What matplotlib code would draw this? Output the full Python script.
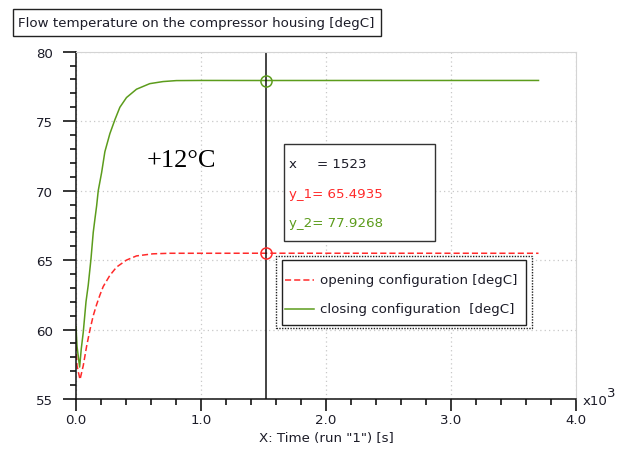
import numpy as np
import matplotlib
matplotlib.use("Agg")
import matplotlib.pyplot as plt
import matplotlib.transforms as mtransforms
from matplotlib.patches import Rectangle
from matplotlib.ticker import MultipleLocator, FuncFormatter

# ------------------------------------------------------------------
# Data (time in s, temperature in degC)
# ------------------------------------------------------------------
t_closing = [0, 8, 29, 42, 58, 80, 98, 120, 138, 152, 165, 178, 205, 231,
             271, 311, 351, 404, 484, 590, 696, 803, 1000, 1523, 3700]
T_closing = [60.2, 58.8, 57.3, 58.6, 59.8, 62.0, 63.2, 65.1, 67.0, 68.0,
             68.9, 70.0, 71.3, 72.8, 74.1, 75.1, 76.0, 76.7, 77.3, 77.7,
             77.85, 77.92, 77.93, 77.9268, 77.93]

t_opening = [0, 8, 32, 58, 85, 112, 138, 165, 192, 218, 271, 325, 404,
             484, 615, 750, 1000, 1523, 3700]
T_opening = [58.9, 57.4, 56.4, 57.4, 58.8, 60.0, 61.0, 61.8, 62.5, 63.1,
             63.9, 64.5, 65.0, 65.3, 65.45, 65.49, 65.49, 65.4935, 65.49]

cursor_x = 1523
cursor_y1 = 65.4935
cursor_y2 = 77.9268

title = "Flow temperature on the compressor housing [degC]"
legend_labels = ["opening configuration [degC]", "closing configuration  [degC]"]
annotation = "+12\u00b0C"

RED = "#ff2a2a"
GREEN = "#5c9c1c"
TXT = "#1c1c28"
FONT = "DejaVu Sans"
FS = 9.6

W, H = 622, 452
fig = plt.figure(figsize=(W / 100, H / 100), dpi=100)
# pixel coordinates measured from the top-left corner of the figure
px = mtransforms.Affine2D().scale(1 / W, -1 / H).translate(0, 1) + fig.transFigure

ax = fig.add_axes([76 / W, 1 - 400 / H, 500 / W, 347.3 / H])

ax.plot(t_opening, T_opening, color=RED, lw=1.1, dashes=(4, 2))
ax.plot(t_closing, T_closing, color=GREEN, lw=1.1)

# cursor
ax.axvline(cursor_x, color="#111111", lw=1.1)
ax.plot([cursor_x], [cursor_y1], marker="o", ms=8, mfc="none", mec=RED, mew=1.1)
ax.plot([cursor_x], [cursor_y2], marker="o", ms=8, mfc="none", mec=GREEN, mew=1.1)

ax.text(567, 71.75, annotation, family="Liberation Serif", fontsize=19,
        color="black", va="baseline", ha="left")

ax.set_xlim(0, 4000)
ax.set_ylim(55, 80)
ax.xaxis.set_major_locator(MultipleLocator(1000))
ax.xaxis.set_minor_locator(MultipleLocator(200))
ax.yaxis.set_major_locator(MultipleLocator(5))
ax.yaxis.set_minor_locator(MultipleLocator(1))
ax.xaxis.set_major_formatter(FuncFormatter(lambda v, p: f"{v / 1000:.1f}"))
ax.grid(True, which="major", color="#c8c8c8", ls=(0, (1, 2.5)), lw=0.9)

for s in ("top", "right"):
    ax.spines[s].set_color("#d4d4d4")
for s in ("left", "bottom"):
    ax.spines[s].set_color("#111111")
    ax.spines[s].set_linewidth(1.1)

ax.tick_params(axis="x", which="major", length=8.5, width=1.1, pad=1.5,
               labelsize=FS, labelcolor=TXT, direction="out")
ax.tick_params(axis="x", which="minor", length=4, width=1.1, direction="out")
ax.tick_params(axis="y", which="major", length=9.6, width=1.1, pad=7,
               labelsize=FS, labelcolor=TXT, direction="out")
ax.tick_params(axis="y", which="minor", length=4, width=1.1, direction="out")
for lab in ax.get_xticklabels() + ax.get_yticklabels():
    lab.set_family(FONT)

ax.set_xlabel('X: Time (run "1") [s]', family=FONT, fontsize=FS, color=TXT,
              labelpad=4)

fig.text(583, 405, "x10", transform=px, family=FONT, fontsize=FS, color=TXT,
         va="baseline")
fig.text(607, 397, "3", transform=px, family=FONT, fontsize=FS, color=TXT,
         va="baseline")

# title box
fig.add_artist(Rectangle((13, 37), 368, -27, transform=px, fill=False,
                         ec="#222222", lw=1.0))
fig.text(18, 24, title, transform=px, family=FONT, fontsize=FS, color=TXT,
         va="center")

# cursor readout box
fig.add_artist(Rectangle((284, 242), 151, -97, transform=px, fc="white",
                         ec="#333333", lw=1.0, zorder=5))
fig.text(289, 165, "x", transform=px, family=FONT, fontsize=FS, color=TXT,
         va="center", zorder=6)
fig.text(317, 165, f"= {cursor_x}", transform=px, family=FONT, fontsize=FS,
         color=TXT, va="center", zorder=6)
fig.text(289, 195, f"y_1= {cursor_y1:.4f}", transform=px, family=FONT,
         fontsize=FS, color=RED, va="center", zorder=6)
fig.text(289, 224, f"y_2= {cursor_y2:.4f}", transform=px, family=FONT,
         fontsize=FS, color=GREEN, va="center", zorder=6)

# legend
fig.add_artist(Rectangle((276, 329), 256, -72, transform=px, fc="white",
                         ec="#222222", lw=1.0, ls=(0, (1, 1)), zorder=5))
fig.add_artist(Rectangle((282, 326), 244, -65, transform=px, fill=False,
                         ec="#222222", lw=1.0, zorder=6))
fig.add_artist(plt.Line2D([285, 314], [281, 281], transform=px, color=RED,
                          lw=1.1, dashes=(4, 2), zorder=6))
fig.add_artist(plt.Line2D([285, 314], [310, 310], transform=px, color=GREEN,
                          lw=1.1, zorder=6))
fig.text(320, 281, legend_labels[0], transform=px, family=FONT, fontsize=FS,
         color=TXT, va="center", zorder=6)
fig.text(320, 310, legend_labels[1], transform=px, family=FONT, fontsize=FS,
         color=TXT, va="center", zorder=6)

fig.savefig("out.png", dpi=100)
